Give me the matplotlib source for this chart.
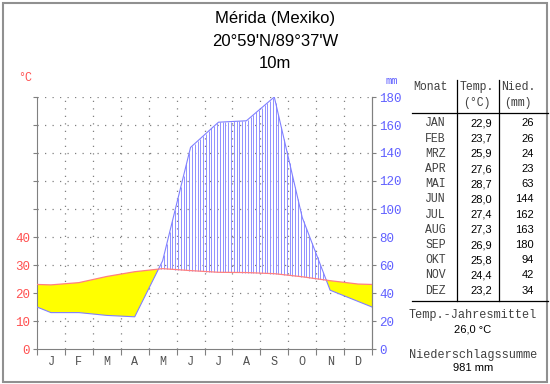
# Climate diagram (Walter-Lieth style) for Mérida, Mexico
import numpy as np
import matplotlib.pyplot as plt
from matplotlib.lines import Line2D
from matplotlib.patches import Rectangle

# Data
month_letters = ["J", "F", "M", "A", "M", "J", "J", "A", "S", "O", "N", "D"]
month_names = ["JAN", "FEB", "MRZ", "APR", "MAI", "JUN", "JUL", "AUG", "SEP", "OKT", "NOV", "DEZ"]
temp = [22.9, 23.7, 25.9, 27.6, 28.7, 28.0, 27.4, 27.3, 26.9, 25.8, 24.4, 23.2]
prec = [26, 26, 24, 23, 63, 144, 162, 163, 180, 94, 42, 34]
temp_ticks = [0, 10, 20, 30, 40]
prec_ticks = [0, 20, 40, 60, 80, 100, 120, 140, 160, 180]

W, H = 550, 384
MONO = "Liberation Mono"
SANS = "Liberation Sans"
RED = "#ff5050"
BLUE = "#6060ff"


def px(x, y):
    return x / W, 1 - y / H


# curve points at month centres, closed at the edges with the Dec/Jan mean
xs = np.concatenate([[0], np.arange(12) + 0.5, [12]])
t = np.concatenate([[(temp[0] + temp[-1]) / 2], temp, [(temp[0] + temp[-1]) / 2]])
p = np.concatenate([[(prec[0] + prec[-1]) / 2], prec, [(prec[0] + prec[-1]) / 2]])
p_half = p / 2  # precipitation on the temperature scale (10 °C = 20 mm)

fig = plt.figure(figsize=(W / 100, H / 100), dpi=100)
ax = fig.add_axes([37 / W, 35 / H, 335 / W, 252 / H])
ax.set_xlim(0, 12)
ax.set_ylim(0, 90)

# dotted grid
for yv in range(10, 91, 10):
    ax.axhline(yv, color="#808080", lw=0.9, ls=(0, (1, 5)), zorder=0)
for xv in range(1, 12):
    ax.axvline(xv, color="#808080", lw=0.9, ls=(0, (1, 5)), zorder=0)

# arid period (yellow) and humid period (vertical hatching)
xd = np.linspace(0, 12, 2401)
td = np.interp(xd, xs, t)
pd_ = np.interp(xd, xs, p_half)
ax.fill_between(xd, pd_, td, where=td >= pd_, color="#ffff00", lw=0, zorder=1)
xh = np.arange(0.05, 12, 0.1)
th = np.interp(xh, xs, t)
ph = np.interp(xh, xs, p_half)
wet = ph > th
ax.vlines(xh[wet], th[wet], ph[wet], color="#9090ff", lw=0.7, zorder=2)

ax.plot(xs, p_half, color="#8080ff", lw=0.8, zorder=3)
ax.plot(xs, t, color="#ff8080", lw=0.9, zorder=4)

# axes styling
for s in ["left", "bottom", "right"]:
    ax.spines[s].set_color("#808080")
ax.spines["top"].set_visible(False)
ax.set_xticks(range(13))
ax.set_xticklabels([])
ax.set_xticks(np.arange(12) + 0.5, minor=True)
ax.set_xticklabels(month_letters, minor=True, family=MONO, fontsize=8.5, color="#505050")
ax.tick_params(axis="x", which="major", length=4, color="#808080")
ax.tick_params(axis="x", which="minor", length=0, pad=5)
ax.set_yticks(range(0, 91, 10))
ax.set_yticklabels([str(v) if v in temp_ticks else "" for v in range(0, 91, 10)],
                   family=MONO, fontsize=9, color=RED)
ax.tick_params(axis="y", length=3, color="#808080", pad=2)

ax2 = ax.twinx()
ax2.set_ylim(0, 180)
ax2.set_yticks(prec_ticks)
ax2.set_yticklabels([str(v) for v in prec_ticks], family=MONO, fontsize=9, color=BLUE)
ax2.tick_params(axis="y", length=3, color="#808080", pad=2)
for s in ["left", "bottom", "top"]:
    ax2.spines[s].set_visible(False)
ax2.spines["right"].set_color("#808080")

fig.text(*px(25, 78), "°C", family=MONO, fontsize=8.5, color=RED, ha="center", va="center")
fig.text(*px(392, 81), "mm", family=MONO, fontsize=7.5, color=BLUE, ha="center", va="center")

# title
for yy, s in [(19, "Mérida (Mexiko)"), (41, "20°59'N/89°37'W"), (63, "10m")]:
    fig.text(*px(275, yy), s, family=SANS, fontsize=12, ha="center", va="center")

# table
grey = "#404040"
fig.text(*px(413, 87), "Monat", family=MONO, fontsize=8.3, color=grey, ha="left", va="center")
fig.text(*px(477, 87), "Temp.", family=MONO, fontsize=8.3, color=grey, ha="center", va="center")
fig.text(*px(477, 103), "(°C)", family=MONO, fontsize=8.3, color=grey, ha="center", va="center")
fig.text(*px(518, 87), "Nied.", family=MONO, fontsize=8.3, color=grey, ha="center", va="center")
fig.text(*px(518, 103), "(mm)", family=MONO, fontsize=8.3, color=grey, ha="center", va="center")
for i, name in enumerate(month_names):
    yy = 123.5 + i * 15.2
    fig.text(*px(446, yy), name, family=MONO, fontsize=8.3, color=grey, ha="right", va="center")
    fig.text(*px(492, yy), f"{temp[i]:.1f}".replace(".", ","), family=SANS, fontsize=8,
             ha="right", va="center")
    fig.text(*px(534, yy), str(prec[i]), family=SANS, fontsize=8, ha="right", va="center")

for (x0, y0), (x1, y1) in [((412, 113), (548, 113)), ((412, 301), (548, 301)),
                           ((457, 80), (457, 301)), ((499, 80), (499, 301))]:
    a, b = px(x0, y0)
    c, d = px(x1, y1)
    fig.add_artist(Line2D([a, c], [b, d], color="black", lw=0.9))

mean_t = np.mean(temp)
fig.text(*px(473, 315), "Temp.-Jahresmittel", family=MONO, fontsize=8.6, color=grey, ha="center", va="center")
fig.text(*px(473, 329), f"{mean_t:.1f} °C".replace(".", ","), family=SANS, fontsize=8, ha="center", va="center")
fig.text(*px(473, 355), "Niederschlagssumme", family=MONO, fontsize=8.6, color=grey, ha="center", va="center")
fig.text(*px(473, 368), f"{sum(prec)} mm", family=SANS, fontsize=8, ha="center", va="center")

# frame around the picture
fig.add_artist(Rectangle(px(2.5, 381.5), 544 / W, 379 / H, transform=fig.transFigure,
                         fill=False, edgecolor="#909090", lw=1.5))

fig.savefig("out.png", dpi=100)
